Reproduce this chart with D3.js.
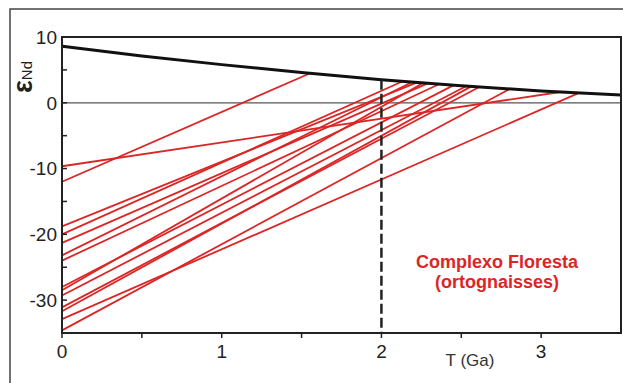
<!DOCTYPE html>
<html><head><meta charset="utf-8">
<script src="https://cdn.jsdelivr.net/npm/d3@7/dist/d3.min.js"></script>
<style>
html,body{margin:0;padding:0;background:#fff;}
svg{display:block;font-family:"Liberation Sans",Arial,sans-serif;}
</style></head>
<body>
<svg id="chart" width="623" height="383"></svg>
<script>
// Depleted mantle evolution curve (T in Ga, εNd)
const dmT   = [0, 0.5, 1.0, 1.5, 2.0, 2.5, 3.0, 3.5];
const dmEps = [8.6, 7.1, 5.8, 4.6, 3.5, 2.6, 1.8, 1.2];
// Sample evolution lines: εNd at T=0 and the model age where they meet the mantle curve
const sampleEps0 = [-9.65, -12.0, -18.8, -20.0, -21.3, -23.2, -24.0, -28.0, -28.5, -29.3, -31.1, -31.7, -32.9, -34.6];
const sampleTdm  = [3.11, 1.55, 2.22, 2.13, 2.29, 2.19, 2.36, 2.45, 2.26, 2.53, 2.61, 2.56, 3.23, 2.80];
const sampleEpsDm= [1.6, 4.45, 3.07, 3.24, 2.94, 3.13, 2.81, 2.65, 3.0, 2.51, 2.37, 2.46, 1.42, 2.06];
// Axes
const xTicksMajor = [0, 1, 2, 3];
const xTicksMinor = [0.5, 1.5, 2.5];
const yTicksMajor = [10, 0, -10, -20, -30];
const yTicksMinor = [5, -5, -15, -25];
const refT = 2;
const refTopEps = 3.5;

const svg = d3.select("#chart");
const x = d3.scaleLinear().domain([0, 3.5]).range([62, 621]);
const y = d3.scaleLinear().domain([-35, 10]).range([333, 37]);

// outer frame
svg.append("rect").attr("x", 10).attr("y", 9).attr("width", 640).attr("height", 400)
  .attr("fill", "none").attr("stroke", "#444").attr("stroke-width", 1.5);

// zero line
svg.append("line").attr("x1", x(0)).attr("x2", x(3.5)).attr("y1", y(0)).attr("y2", y(0))
  .attr("stroke", "#555").attr("stroke-width", 1.3);

// sample lines
const red = "#dc2626";
svg.append("g").selectAll("line").data(sampleEps0).join("line")
  .attr("x1", x(0)).attr("y1", d => y(d))
  .attr("x2", (d, i) => x(sampleTdm[i])).attr("y2", (d, i) => y(sampleEpsDm[i]))
  .attr("stroke", red).attr("stroke-width", 1.8);

// mantle curve
const dm = dmT.map((t, i) => [t, dmEps[i]]);
svg.append("path").datum(dm)
  .attr("d", d3.line().x(d => x(d[0])).y(d => y(d[1])).curve(d3.curveMonotoneX))
  .attr("fill", "none").attr("stroke", "#111").attr("stroke-width", 3);

// dashed T=2 line
svg.append("line").attr("x1", x(refT)).attr("x2", x(refT)).attr("y1", y(refTopEps)).attr("y2", y(-35))
  .attr("stroke", "#222").attr("stroke-width", 2.5).attr("stroke-dasharray", "10,4");

// plot frame
svg.append("rect").attr("x", x(0)).attr("y", y(10)).attr("width", x(3.5) - x(0)).attr("height", y(-35) - y(10))
  .attr("fill", "none").attr("stroke", "#222").attr("stroke-width", 2);

// y axis ticks (inward)
const gy = svg.append("g");
gy.selectAll("line.maj").data(yTicksMajor.concat(yTicksMinor)).join("line")
  .attr("x1", x(0)).attr("x2", x(0) + 5).attr("y1", d => y(d)).attr("y2", d => y(d))
  .attr("stroke", "#222").attr("stroke-width", 1.5);
gy.selectAll("text").data(yTicksMajor).join("text")
  .attr("x", x(0) - 5).attr("y", d => y(d)).attr("dy", "0.36em")
  .attr("text-anchor", "end").attr("font-size", 19).attr("fill", "#222")
  .text(d => d);

// x axis ticks (outward)
const gx = svg.append("g");
gx.selectAll("line").data(xTicksMajor.concat(xTicksMinor)).join("line")
  .attr("x1", d => x(d)).attr("x2", d => x(d)).attr("y1", y(-35)).attr("y2", y(-35) + 5)
  .attr("stroke", "#222").attr("stroke-width", 1.5);
gx.selectAll("text").data(xTicksMajor).join("text")
  .attr("x", d => x(d)).attr("y", 358)
  .attr("text-anchor", "middle").attr("font-size", 19).attr("fill", "#222")
  .text(d => d);

svg.append("text").attr("x", 470).attr("y", 366).attr("text-anchor", "middle")
  .attr("font-size", 17).attr("fill", "#333").text("T (Ga)");

// y label
const yl = svg.append("text").attr("transform", "translate(32,77) rotate(-90)")
  .attr("text-anchor", "middle").attr("fill", "#222");
yl.append("tspan").attr("font-size", 27).attr("font-weight", "bold").text("ε");
yl.append("tspan").attr("font-size", 15).attr("dy", 0).text("Nd");

// annotation
svg.append("text").attr("x", 497).attr("y", 268).attr("text-anchor", "middle")
  .attr("font-size", 18).attr("font-weight", "bold").attr("fill", red).text("Complexo Floresta");
svg.append("text").attr("x", 497).attr("y", 288).attr("text-anchor", "middle")
  .attr("font-size", 18).attr("font-weight", "bold").attr("fill", red).text("(ortognaisses)");
</script>
</body></html>
